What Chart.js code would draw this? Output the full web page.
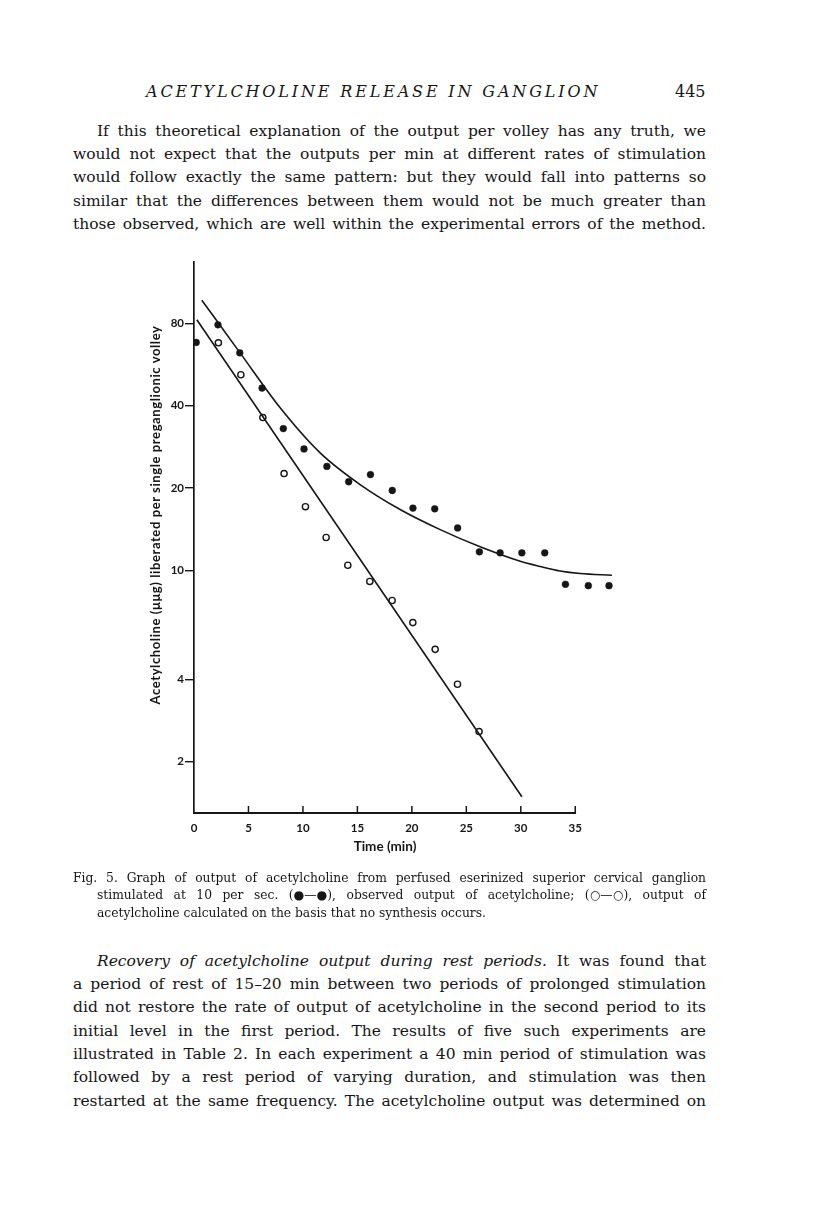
<!DOCTYPE html>
<html><head><meta charset="utf-8">
<script src="https://cdn.jsdelivr.net/npm/chart.js@4.4.1/dist/chart.umd.min.js"></script>
<style>
html,body{margin:0;padding:0;background:#fff;}
body{width:816px;height:1221px;position:relative;overflow:hidden;font-family:"DejaVu Serif",serif;color:#161616;}
.t{position:absolute;}
.j{left:73px;width:633px;text-align:justify;text-align-last:justify;}
.ji{left:97px;width:609px;text-align:justify;text-align-last:justify;}
.b{font-size:15.5px;line-height:20px;}
.c{font-size:12.3px;line-height:16px;}
.nb{display:inline-block;}
#wrap{position:absolute;left:0;top:0;width:816px;height:900px;}
.ax{font-family:Lato,"DejaVu Sans",sans-serif;font-weight:bold;color:#161616;}
</style></head>
<body>
<div class="t" style="left:146px;top:82px;font-size:16px;line-height:20px;font-style:italic;letter-spacing:2.85px;white-space:nowrap;">ACETYLCHOLINE RELEASE IN GANGLION</div>
<div class="t" style="left:675px;top:82px;font-size:16px;line-height:20px;">445</div>

<div class="t ji b" style="top:120.5px">If this theoretical explanation of the output per volley has any truth, we</div>
<div class="t j b" style="top:144px">would not expect that the outputs per min at different rates of stimulation</div>
<div class="t j b" style="top:167.2px">would follow exactly the same pattern: but they would fall into patterns so</div>
<div class="t j b" style="top:190.5px">similar that the differences between them would not be much greater than</div>
<div class="t j b" style="top:213.7px">those observed, which are well within the experimental errors of the method.</div>

<div id="wrap"><canvas id="c" width="816" height="900"></canvas></div>
<div class="t ax" style="left:315px;top:837px;width:140px;text-align:center;font-size:13.5px;line-height:18px;">Time (min)</div>
<div class="t ax" style="left:-45px;top:507px;width:400px;height:16px;text-align:center;font-size:13px;letter-spacing:0.6px;line-height:16px;transform:rotate(-90deg);transform-origin:50% 50%;white-space:nowrap;">Acetylcholine (μμg) liberated per single preganglionic volley</div>

<div class="t j c" style="top:870px">Fig. 5. Graph of output of acetylcholine from perfused eserinized superior cervical ganglion</div>
<div class="t ji c" style="top:887px">stimulated at 10 per sec. <span class="nb">(●—●),</span> observed output of acetylcholine; <span class="nb">(○—○),</span> output of</div>
<div class="t c" style="left:97px;top:905px">acetylcholine calculated on the basis that no synthesis occurs.</div>

<div class="t ji b" style="top:950.5px"><i>Recovery of acetylcholine output during rest periods.</i> It was found that</div>
<div class="t j b" style="top:973.8px">a period of rest of 15–20 min between two periods of prolonged stimulation</div>
<div class="t j b" style="top:997.2px">did not restore the rate of output of acetylcholine in the second period to its</div>
<div class="t j b" style="top:1020.5px">initial level in the first period. The results of five such experiments are</div>
<div class="t j b" style="top:1043.8px">illustrated in Table 2. In each experiment a 40 min period of stimulation was</div>
<div class="t j b" style="top:1067.2px">followed by a rest period of varying duration, and stimulation was then</div>
<div class="t j b" style="top:1090.5px">restarted at the same frequency. The acetylcholine output was determined on</div>

<script>
const xTickValues = [0, 5, 10, 15, 20, 25, 30, 35];
const yTickValues = [2, 4, 10, 20, 40, 80];

const observedTime   = [0.2, 2.2, 4.2, 6.25, 8.2, 10.1, 12.2, 14.2, 16.2, 18.2, 20.1, 22.1, 24.2, 26.2, 28.1, 30.1, 32.2, 34.1, 36.2, 38.1];
const observedOutput = [68.1, 79.0, 62.4, 46.4, 33.0, 27.8, 24.0, 21.1, 22.4, 19.6, 16.9, 16.8, 14.3, 11.7, 11.6, 11.6, 11.6, 8.9, 8.8, 8.8];

const calcTime   = [2.24, 4.3, 6.32, 8.27, 10.23, 12.13, 14.12, 16.14, 18.19, 20.09, 22.14, 24.19, 26.17];
const calcOutput = [67.9, 51.9, 36.2, 22.6, 17.1, 13.2, 10.45, 9.12, 7.77, 6.45, 5.15, 3.84, 2.58];

const observedFitTime   = [0.72, 4.23, 7.91, 11.58, 15.25, 18.92, 22.6, 26.27, 29.95, 31.78, 33.6, 35.45, 38.37];
const observedFitOutput = [97.1, 62.4, 39.3, 26.9, 20.6, 16.7, 14.1, 12.2, 10.8, 10.34, 9.96, 9.75, 9.61];

const calcFitTime   = [0.26, 30.1];
const calcFitOutput = [82.4, 1.49];

const toXY = (xs, ys) => xs.map((x, i) => ({x: x, y: ys[i]}));
const INK = '#161616';
const tickFont = {family: 'Lato', weight: 'bold', size: 11.5};

const xAxisPlugin = {
  id: 'xAxisUp',
  afterDraw(chart) {
    const xs = chart.scales.x, a = chart.chartArea, ctx = chart.ctx;
    ctx.save();
    ctx.strokeStyle = INK;
    ctx.lineWidth = 1.8;
    const p0 = xs.getPixelForValue(xTickValues[0]);
    const p1 = xs.getPixelForValue(xTickValues[xTickValues.length - 1]);
    ctx.beginPath();
    ctx.moveTo(p0 - 1, a.bottom);
    ctx.lineTo(p1 + 0.8, a.bottom);
    ctx.stroke();
    ctx.lineWidth = 1.5;
    xTickValues.forEach(v => {
      if (v === 0) return;
      const p = xs.getPixelForValue(v);
      ctx.beginPath();
      ctx.moveTo(p, a.bottom);
      ctx.lineTo(p, a.bottom - 7);
      ctx.stroke();
    });
    ctx.restore();
  }
};

new Chart(document.getElementById('c').getContext('2d'), {
  type: 'scatter',
  data: {
    datasets: [
      {type: 'line', data: toXY(observedFitTime, observedFitOutput), borderColor: INK, borderWidth: 1.6, pointRadius: 0, cubicInterpolationMode: 'monotone', fill: false},
      {type: 'line', data: toXY(calcFitTime, calcFitOutput), borderColor: INK, borderWidth: 1.6, pointRadius: 0, tension: 0, fill: false},
      {data: toXY(observedTime, observedOutput), pointRadius: 3.4, pointBackgroundColor: INK, pointBorderColor: INK, pointBorderWidth: 0.5},
      {data: toXY(calcTime, calcOutput), pointRadius: 3.1, pointBackgroundColor: '#fff', pointBorderColor: INK, pointBorderWidth: 1.4}
    ]
  },
  options: {
    responsive: false,
    animation: false,
    devicePixelRatio: 1,
    layout: {padding: {left: 134, right: 195, top: 262, bottom: 47}},
    plugins: {legend: {display: false}, tooltip: {enabled: false}},
    scales: {
      x: {
        type: 'linear', min: 0, max: 39.2, bounds: 'data',
        grid: {display: false, drawTicks: false},
        border: {display: false},
        afterBuildTicks: s => { s.ticks = xTickValues.map(v => ({value: v})); },
        ticks: {padding: 8, color: INK, font: tickFont, maxRotation: 0, autoSkip: false, callback: v => String(v)},
        afterFit: s => { s.height = 40; }
      },
      y: {
        type: 'logarithmic', min: 1.3, max: 134, bounds: 'data',
        grid: {display: true, drawOnChartArea: false, drawTicks: true, tickLength: 9, color: INK, lineWidth: 1.4},
        border: {display: true, color: INK, width: 1.7},
        afterBuildTicks: s => { s.ticks = yTickValues.map(v => ({value: v})); },
        ticks: {padding: 1, color: INK, font: tickFont, autoSkip: false, callback: v => String(v)},
        afterFit: s => { s.width = 60; }
      }
    }
  },
  plugins: [xAxisPlugin]
});
</script>
</body></html>
